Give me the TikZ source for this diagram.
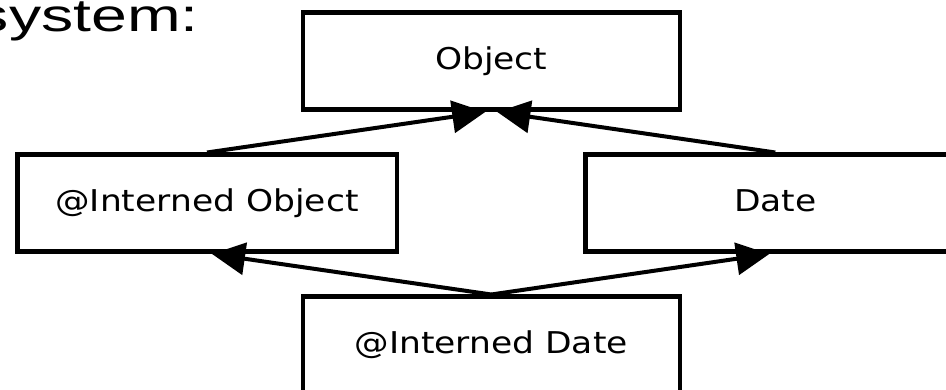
\documentclass[tikz,border=0pt]{standalone}
\usepackage{fontspec}
\usepackage{graphicx}
\setmainfont{DejaVu Sans}
\newfontfamily\arialfont{Liberation Sans}
\usetikzlibrary{arrows.meta,calc}
\tikzset{
  box/.style={draw=black, line width=4.5pt, minimum height=97pt, inner sep=0pt, anchor=north west},
  lbl/.style={inner sep=0pt, anchor=base, font=\fontsize{30pt}{36pt}\selectfont},
  edge/.style={draw=black, line width=4pt, -{Triangle[length=33pt,width=32pt]}}
}
\newcommand{\wide}[1]{\scalebox{1.15}[1]{#1}}
\begin{document}
\begin{tikzpicture}[x=1pt,y=-1pt]
\useasboundingbox (0,0) rectangle (946,390);
\node[inner sep=0pt, anchor=base east, font=\arialfont\fontsize{46pt}{52pt}\selectfont] (sys) at (199,32) {\scalebox{1.4}[1]{system:}};
\node[box, minimum width=377pt] (obj) at (300.5,10.5) {};
\node[box, minimum width=379.5pt] (io) at (15,152.5) {};
\node[box, minimum width=379.5pt] (date) at (583.3,152.5) {};
\node[box, minimum width=377pt] (idate) at (300.5,294.5) {};
\node[lbl] (tobj) at ($(obj.center)+(0,8.5)$) {\wide{Object}};
\node[lbl] (tio) at ($(io.center)+(0,8)$) {\wide{@Interned Object}};
\node[lbl] (tdate) at ($(date.center)+(0,8.5)$) {\wide{Date}};
\node[lbl] (tidate) at ($(idate.center)+(0,8)$) {\wide{@Interned Date}};
\draw[edge] (io.north) -- ($(obj.south)+(-6,0)$);
\draw[edge] (date.north) -- ($(obj.south)+(6,0)$);
\draw[edge] (idate.north) -- ($(io.south)+(5,0)$);
\draw[edge] (idate.north) -- ($(date.south)+(-6,0)$);
\end{tikzpicture}
\end{document}
